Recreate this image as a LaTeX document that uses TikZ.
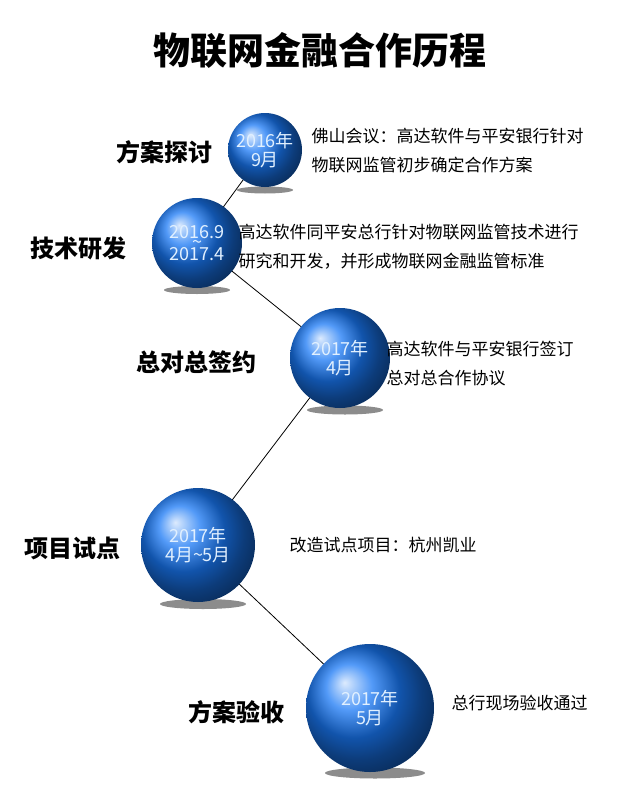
\documentclass[tikz,border=0pt]{standalone}
\usepackage{fontspec}
\setmainfont{Noto Sans CJK SC}
\usetikzlibrary{positioning, backgrounds, shapes.geometric}
\definecolor{ballblue}{RGB}{25, 120, 245}
\definecolor{balltext}{RGB}{225, 240, 255}

\begin{document}
\begin{tikzpicture}[
    x=1pt, y=-1pt,
    ball/.style={circle, shading=ball, ball color=ballblue, text=balltext, align=center, inner sep=0pt, font=\fontsize{18}{19}\selectfont},
    stage/.style={font=\fontsize{24}{26}\selectfont\bfseries, anchor=east},
    desc/.style={font=\fontsize{17}{29}\selectfont, anchor=west, align=left},
    shadow/.style={ellipse, fill=black!45, inner sep=0pt, draw=none},
    link/.style={thick, black}
]
\useasboundingbox (0,0) rectangle (640,787);

% Title
\node[font=\fontsize{37}{40}\selectfont\bfseries] (title) at (320,50) {物联网金融合作历程};

% Balls
\node[ball, minimum size=74] (b1) at (265,150) {2016年\\9月};
\node[ball, minimum size=90] (b2) at (197,243) {2016.9\\[-9pt]\textasciitilde\\[-7pt]2017.4};
\node[ball, minimum size=100] (b3) at (340,358) {2017年\\4月};
\node[ball, minimum size=114] (b4) at (198,545) {2017年\\4月\textasciitilde5月};
\node[ball, minimum size=128] (b5) at (370,708) {2017年\\5月};

% Shadows and links
\begin{scope}[on background layer]
\node[shadow, minimum width=56, minimum height=7] at (265,190) {};
\node[shadow, minimum width=66, minimum height=8] at (197,290) {};
\node[shadow, minimum width=76, minimum height=9] at (345,410) {};
\node[shadow, minimum width=86, minimum height=10] at (203,604) {};
\node[shadow, minimum width=100, minimum height=11] at (375,773) {};
\draw[link] (b1.center) -- (b2.center);
\draw[link] (b2.center) -- (b3.center);
\draw[link] (b3.center) -- (b4.center);
\draw[link] (b4.center) -- (b5.center);
\end{scope}

% Stage names
\node[stage] (s1) at (216,152) {方案探讨};
\node[stage] (s2) at (130,248) {技术研发};
\node[stage] (s3) at (260,362) {总对总签约};
\node[stage] (s4) at (124,548) {项目试点};
\node[stage] (s5) at (288,712) {方案验收};

% Descriptions
\node[desc] (d1) at (308,151) {佛山会议：高达软件与平安银行针对\\物联网监管初步确定合作方案};
\node[desc] (d2) at (235,247) {高达软件同平安总行针对物联网监管技术进行\\研究和开发，并形成物联网金融监管标准};
\node[desc] (d3) at (383,364) {高达软件与平安银行签订\\总对总合作协议};
\node[desc] (d4) at (286,545) {改造试点项目：杭州凯业};
\node[desc] (d5) at (448,703) {总行现场验收通过};

\end{tikzpicture}
\end{document}
